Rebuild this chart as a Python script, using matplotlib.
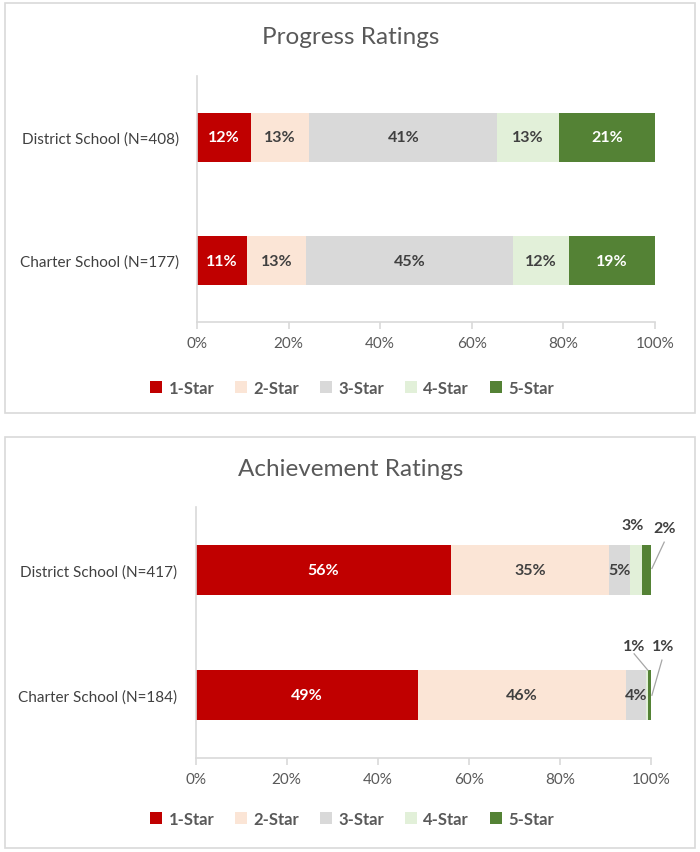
import matplotlib
matplotlib.use("Agg")
import matplotlib.pyplot as plt
from matplotlib.patches import Rectangle, Patch

plt.rcParams['font.family'] = ['Lato', 'DejaVu Sans']

categories_progress = ["Charter School (N=177)", "District School (N=408)"]
categories_achieve = ["Charter School (N=184)", "District School (N=417)"]
stars = ["1-Star", "2-Star", "3-Star", "4-Star", "5-Star"]
colors = ["#C00000", "#FBE5D6", "#D9D9D9", "#E2F0D9", "#548235"]
label_colors = ["white", "#404040", "#404040", "#404040", "white"]

# rows: Charter, District ; columns: 1..5 star
progress = [[10.9, 12.9, 45.1, 12.4, 18.7],
            [11.8, 12.7, 41.1, 13.4, 21.0]]
achievement = [[48.9, 45.6, 4.4, 0.55, 0.55],
               [56.1, 34.6, 4.7, 2.6, 2.0]]
xticks = [0, 20, 40, 60, 80, 100]

W, H = 700, 853
fig = plt.figure(figsize=(7, 8.53), dpi=100)

def fx(px):
    return px / W

def fy(py):
    return 1 - py / H

# panel borders
for top, bot in [(4, 414), (438, 849)]:
    fig.patches.append(Rectangle((fx(4.5), fy(bot)), fx(690), (bot - top) / H,
                                 transform=fig.transFigure, fill=False,
                                 edgecolor="#D9D9D9", linewidth=1.2))


def draw(ax, cats, data, title, title_y, legend_y, outside):
    ax.set_xlim(0, 100)
    ax.set_ylim(-0.5, 1.5)
    for i in range(2):
        left = 0
        for j in range(5):
            v = data[i][j]
            ax.barh(i, v, left=left, height=0.4, color=colors[j], edgecolor='none')
            c = left + v / 2
            txt = f"{v:.0f}%"
            key = (i, j)
            if key in outside:
                (tx, ty), line = outside[key]
                ax.text(tx, ty, txt, ha='center', va='center', fontsize=11.5,
                        fontweight='bold', color='#404040', clip_on=False)
                if line is not None:
                    ax.plot([line[0][0], line[1][0]], [line[0][1], line[1][1]],
                            color='#A6A6A6', lw=0.9, clip_on=False)
            else:
                ax.text(c, i, txt, ha='center', va='center', fontsize=11.5,
                        fontweight='bold', color=label_colors[j])
            left += v
    ax.set_yticks([0, 1])
    ax.set_yticklabels(cats, fontsize=11, color='#404040')
    ax.set_xticks(xticks)
    ax.set_xticklabels([f"{t}%" for t in xticks], fontsize=11, color='#595959')
    for s in ['top', 'right']:
        ax.spines[s].set_visible(False)
    for s in ['left', 'bottom']:
        ax.spines[s].set_color('#D9D9D9')
        ax.spines[s].set_linewidth(1.2)
    ax.tick_params(axis='y', length=0, pad=13)
    ax.tick_params(axis='x', length=5, color='#D9D9D9', width=1.2, pad=5)
    fig.text(0.501, title_y, title, ha='center', va='center', fontsize=17.5,
             color='#595959')
    handles = [Patch(facecolor=colors[j], edgecolor='none') for j in range(5)]
    leg = fig.legend(handles, stars, loc='center', bbox_to_anchor=(0.503, legend_y),
                     ncol=5, frameon=False, handlelength=0.7, handleheight=0.7,
                     handletextpad=0.4, columnspacing=1.25,
                     prop={'size': 12, 'weight': 'bold'})
    for t in leg.get_texts():
        t.set_color('#595959')


ax1 = fig.add_axes([fx(197), fy(323), fx(655 - 197), (323 - 77) / H])
draw(ax1, categories_progress, progress, "Progress Ratings", fy(37), fy(389), {})

ax2 = fig.add_axes([fx(195.5), fy(759), fx(651 - 195.5), (759 - 508) / H])
# outside labels: (row, star) -> ((x, y) in data, leader line)
outside = {
    (1, 3): ((96.0, 1.36), None),
    (1, 4): ((103.0, 1.33), ((102.9, 1.22), (100.2, 1.01))),
    (0, 3): ((96.3, 0.39), ((96.3, 0.33), (99.3, 0.20))),
    (0, 4): ((102.6, 0.39), ((102.4, 0.28), (100.2, 0.0))),
}
draw(ax2, categories_achieve, achievement, "Achievement Ratings", fy(470), fy(820), outside)

fig.savefig("out.png", dpi=100)
